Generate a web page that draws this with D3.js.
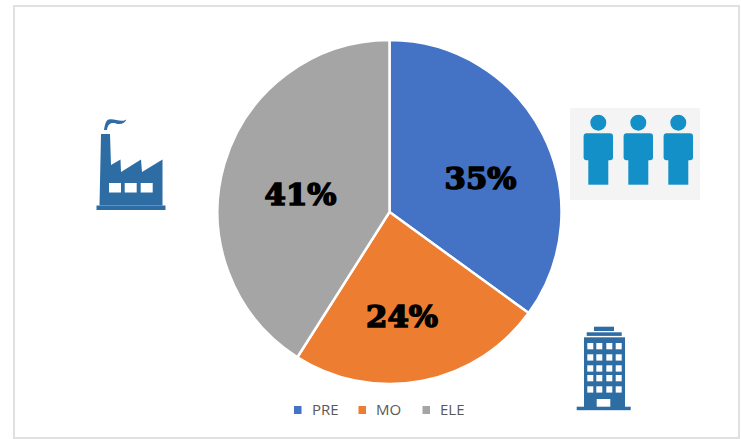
<!DOCTYPE html>
<html>
<head>
<meta charset="utf-8">
<script src="https://cdn.jsdelivr.net/npm/d3@7/dist/d3.min.js"></script>
<style>
html,body{margin:0;padding:0;background:#fff;}
svg{display:block;}
</style>
</head>
<body>
<svg id="chart" width="741" height="439"></svg>
<script>
const categories = ["PRE", "MO", "ELE"];
const values = [35, 24, 41];
const sliceColors = ["#4472c4", "#ed7d31", "#a5a5a5"];

const svg = d3.select("#chart");
svg.append("rect").attr("x",14).attr("y",6).attr("width",725).attr("height",432)
  .attr("fill","#fff").attr("stroke","#e0e0e0").attr("stroke-width",2);

const cx = 389.5, cy = 212, radius = 172;
const pie = d3.pie().sort(null).value(d => d)(values);
const arc = d3.arc().innerRadius(0).outerRadius(radius);
const g = svg.append("g").attr("transform",`translate(${cx},${cy})`);
g.selectAll("path").data(pie).join("path")
  .attr("d",arc).attr("fill",(d,i)=>sliceColors[i])
  .attr("stroke","#fff").attr("stroke-width",2.5);

const labelOffsets = [[91,-23],[12.5,115],[-89,-7]];
g.selectAll("text").data(pie).join("text")
  .attr("x",(d,i)=>labelOffsets[i][0]).attr("y",(d,i)=>labelOffsets[i][1])
  .attr("text-anchor","middle")
  .attr("font-family","'DejaVu Serif'").attr("font-weight","bold").attr("font-size",29)
  .attr("fill","#000").attr("stroke","#000").attr("stroke-width",1.5)
  .attr("textLength",72).attr("lengthAdjust","spacingAndGlyphs")
  .text(d=>d.data+"%");

// legend
const legendSquares = [294,358.5,422.5];
const legendText = [312,376,440];
const legend = svg.append("g");
categories.forEach((c,i)=>{
  legend.append("rect").attr("x",legendSquares[i]).attr("y",406).attr("width",7.5).attr("height",8).attr("fill",sliceColors[i]);
  legend.append("text").attr("x",legendText[i]).attr("y",415)
    .attr("font-family","'Open Sans'").attr("font-size",15).attr("fill","#595959").text(c);
});

// factory icon
const fc = "#2e6da4";
const factory = svg.append("g").attr("fill",fc);
factory.append("path").attr("d","M101,134 L110,134 L111,165 L120.5,159.5 L121,172 L141,159.5 L142,172 L162.5,159.5 L162.5,205.5 L99.5,205.5 Z");
factory.append("rect").attr("x",96.5).attr("y",205.5).attr("width",69).attr("height",4.5);
factory.append("path").attr("d","M104,130 C105,124 106,120 109,119.5 C114,118 121,123 126.5,119.5 C125,123 121,125 116,123.5 C112,122.5 108,123 107,130 Z");
[109,124.7,140.7].forEach(x=>factory.append("rect").attr("x",x).attr("y",183).attr("width",12).attr("height",9.5).attr("fill","#fff"));

// people icon
const pc = "#1490c8";
svg.append("rect").attr("x",570).attr("y",108).attr("width",130).attr("height",92).attr("fill","#f4f4f4");
[598.3,638.3,678.3].forEach(x=>{
  const p = svg.append("g").attr("fill",pc);
  p.append("circle").attr("cx",x).attr("cy",122.7).attr("r",8);
  p.append("rect").attr("x",x-14.7).attr("y",133.3).attr("width",29.4).attr("height",27).attr("rx",3);
  p.append("rect").attr("x",x-10).attr("y",155).attr("width",20).attr("height",29.7);
});

// building icon
const b = svg.append("g").attr("fill",fc);
b.append("rect").attr("x",594).attr("y",326.7).attr("width",20).attr("height",4.3);
b.append("rect").attr("x",586.7).attr("y",332.3).attr("width",35).attr("height",3.6);
b.append("rect").attr("x",584).attr("y",337.3).attr("width",41).attr("height",69.7);
b.append("rect").attr("x",576.7).attr("y",406.7).attr("width",54).attr("height",3.5);
[587.3,596.3,606.3,615.7].forEach(x=>{
  [343,354.3,365.3,375,386.3].forEach(y=>{
    b.append("rect").attr("x",x).attr("y",y).attr("width",6).attr("height",6.3).attr("fill","#fff");
  });
});
b.append("rect").attr("x",596.7).attr("y",399).attr("width",13.6).attr("height",7.7).attr("fill","#fff");
</script>
</body>
</html>
